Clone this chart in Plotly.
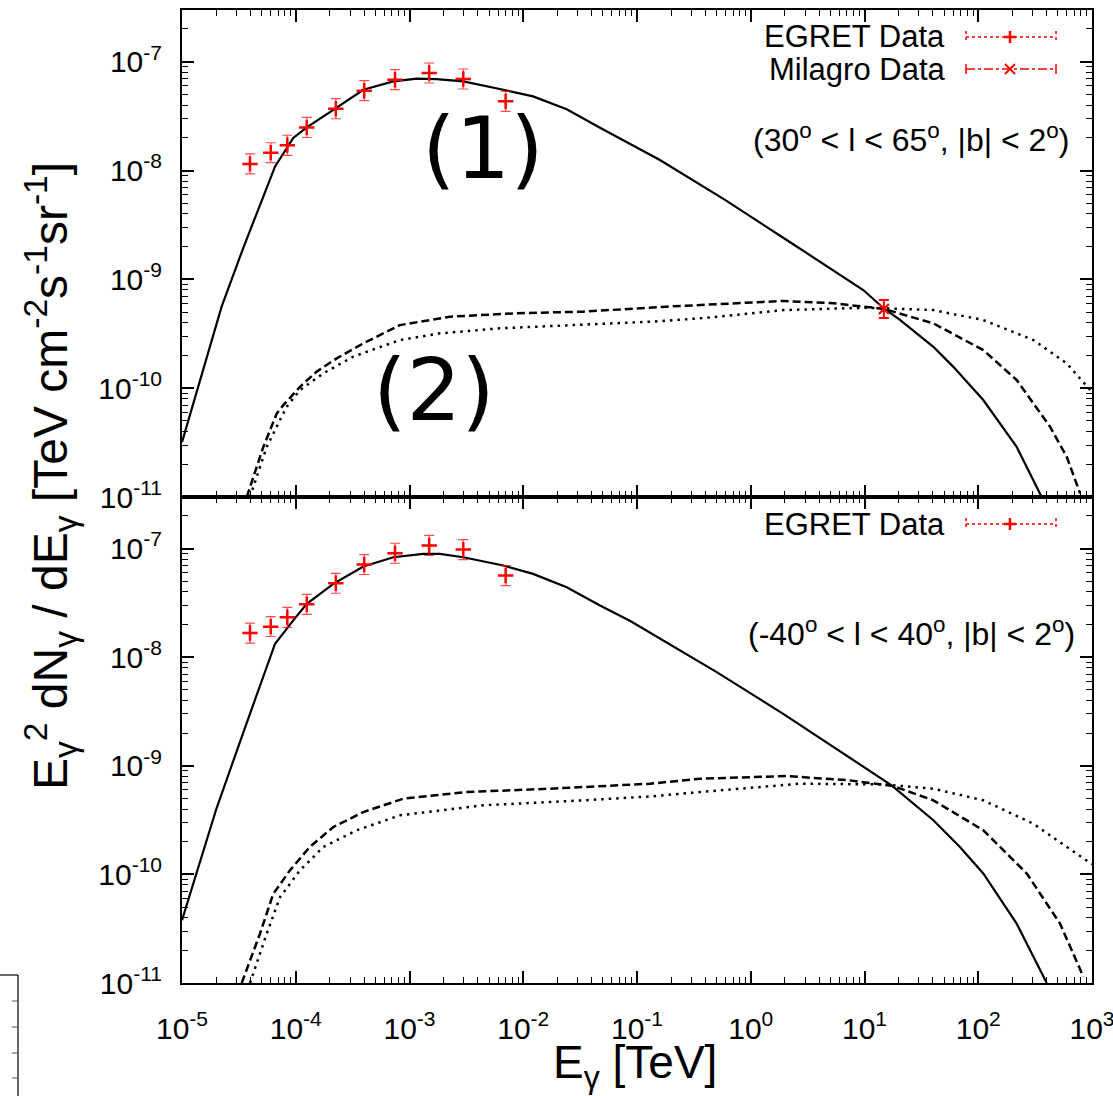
import plotly.graph_objects as go

# ---------------- data ----------------
egret_E = [3.96e-5, 6.03e-5, 8.43e-5, 1.25e-4, 2.25e-4, 4.0e-4, 7.46e-4, 1.49e-3, 2.97e-3, 7.0e-3]

top_egret_V = [1.15e-8, 1.46e-8, 1.71e-8, 2.49e-8, 3.70e-8, 5.41e-8, 6.83e-8, 7.87e-8, 6.93e-8, 4.32e-8]
top_egret_plus = [2.7e-9, 3.4e-9, 4.0e-9, 5.9e-9, 8.7e-9, 1.28e-8, 1.61e-8, 1.86e-8, 1.64e-8, 1.02e-8]
top_egret_minus = [2.2e-9, 2.8e-9, 3.3e-9, 4.8e-9, 7.1e-9, 1.03e-8, 1.30e-8, 1.50e-8, 1.32e-8, 8.3e-9]

bot_egret_V = [1.67e-8, 1.91e-8, 2.33e-8, 3.07e-8, 4.79e-8, 7.13e-8, 9.06e-8, 1.07e-7, 9.79e-8, 5.64e-8]
bot_egret_plus = [3.9e-9, 4.5e-9, 5.5e-9, 7.2e-9, 1.13e-8, 1.68e-8, 2.14e-8, 2.53e-8, 2.31e-8, 1.33e-8]
bot_egret_minus = [3.2e-9, 3.6e-9, 4.5e-9, 5.9e-9, 9.1e-9, 1.36e-8, 1.73e-8, 2.04e-8, 1.87e-8, 1.08e-8]

milagro_E = [14.8]
milagro_V = [5.35e-10]
milagro_plus = [1.12e-10]
milagro_minus = [0.93e-10]

top_solid_E = [1.0e-5, 1.44e-5, 2.23e-5, 3.46e-5, 6.58e-5, 9.51e-5, 1.25e-4, 2.14e-4, 3.93e-4, 7.21e-4,
               1.16e-3, 1.73e-3, 2.97e-3, 6.68e-3, 1.22e-2, 2.41e-2, 4.73e-2, 0.159, 0.594, 2.07,
               9.75, 14.8, 20.5, 40.3, 60.4, 110.7, 217.6, 361]
top_solid_V = [3.19e-11, 1.19e-10, 5.61e-10, 1.95e-9, 1.09e-8, 1.99e-8, 2.49e-8, 3.61e-8, 5.52e-8, 6.59e-8,
               6.98e-8, 6.93e-8, 6.59e-8, 5.52e-8, 4.80e-8, 3.65e-8, 2.47e-8, 1.25e-8, 5.37e-9, 2.30e-9,
               7.98e-10, 5.40e-10, 4.24e-10, 2.40e-10, 1.57e-10, 7.78e-11, 2.89e-11, 1.0e-11]

top_dash_E = [3.71e-5, 5.19e-5, 6.81e-5, 7.78e-5, 1.09e-4, 1.53e-4, 2.29e-4, 3.93e-4, 8.24e-4, 2.27e-3,
              8.75e-3, 3.37e-2, 0.182, 0.703, 1.93, 5.32, 14.8, 40.3, 110.7, 217.6,
              427.6, 599.8, 785]
top_dash_V = [1.0e-11, 2.89e-11, 5.86e-11, 6.98e-11, 1.03e-10, 1.42e-10, 1.88e-10, 2.58e-10, 3.80e-10, 4.54e-10,
              4.88e-10, 5.05e-10, 5.61e-10, 6.03e-10, 6.33e-10, 6.03e-10, 5.35e-10, 3.94e-10, 2.24e-10, 1.19e-10,
              4.42e-11, 2.34e-11, 1.08e-11]

top_dot_E = [3.96e-5, 5.56e-5, 8.32e-5, 1.09e-4, 1.75e-4, 3.21e-4, 8.24e-4, 1.85e-3, 6.25e-3, 0.130,
             0.358, 1.93, 10.4, 40.3, 110.7, 304.6, 600, 902, 1000]
top_dot_V = [1.0e-11, 2.89e-11, 6.75e-11, 9.62e-11, 1.37e-10, 1.95e-10, 2.77e-10, 3.19e-10, 3.55e-10, 4.08e-10,
             4.38e-10, 5.22e-10, 5.49e-10, 5.22e-10, 4.23e-10, 2.77e-10, 1.69e-10, 1.03e-10, 9.2e-11]

bot_solid_E = [1.0e-5, 2.0e-5, 3.55e-5, 5.01e-5, 6.58e-5, 9.51e-5, 1.25e-4, 2.14e-4, 3.93e-4,
               7.21e-4, 1.32e-3, 1.85e-3, 2.97e-3, 6.68e-3, 1.22e-2, 2.41e-2, 4.73e-2, 8.81e-2, 0.170,
               0.502, 1.93, 9.75, 17.3, 40.3, 69.0, 110.7, 217.6, 400]
bot_solid_V = [3.78e-11, 3.98e-10, 2.19e-9, 6.03e-9, 1.33e-8, 2.18e-8, 3.10e-8, 4.73e-8, 6.83e-8,
               8.32e-8, 8.93e-8, 8.93e-8, 8.32e-8, 6.98e-8, 5.85e-8, 4.41e-8, 2.99e-8, 2.14e-8, 1.43e-8,
               7.28e-9, 3.01e-9, 9.73e-10, 6.61e-10, 3.15e-10, 1.79e-10, 1.02e-10, 3.52e-11, 1.0e-11]

bot_dash_E = [3.35e-5, 4.85e-5, 6.35e-5, 8.90e-5, 1.33e-4, 2.14e-4, 3.93e-4, 8.83e-4, 3.18e-3, 1.72e-2,
              0.130, 0.358, 2.07, 7.45, 17.9, 40.3, 110.7, 267, 524, 840]
bot_dash_V = [1.0e-11, 2.85e-11, 6.65e-11, 1.09e-10, 1.79e-10, 2.73e-10, 3.75e-10, 4.98e-10, 5.73e-10, 6.15e-10,
              6.84e-10, 7.60e-10, 8.04e-10, 7.34e-10, 6.50e-10, 4.81e-10, 2.55e-10, 1.02e-10, 3.52e-11, 1.14e-11]

bot_dot_E = [3.96e-5, 5.56e-5, 7.28e-5, 1.09e-4, 1.75e-4, 3.44e-4, 8.24e-4, 4.46e-3, 3.37e-2, 0.130,
             0.358, 2.71, 14.6, 40.3, 110.7, 305, 600, 929, 1000]
bot_dot_V = [1.0e-11, 2.85e-11, 6.19e-11, 1.09e-10, 1.79e-10, 2.55e-10, 3.50e-10, 4.33e-10, 4.81e-10, 5.22e-10,
             5.73e-10, 6.84e-10, 6.74e-10, 6.15e-10, 4.81e-10, 2.93e-10, 1.79e-10, 1.30e-10, 1.24e-10]

x_tick_vals = [1e-5, 1e-4, 1e-3, 1e-2, 1e-1, 1e0, 1e1, 1e2, 1e3]
x_tick_text = ["10<sup>-5</sup>", "10<sup>-4</sup>", "10<sup>-3</sup>", "10<sup>-2</sup>", "10<sup>-1</sup>",
               "10<sup>0</sup>", "10<sup>1</sup>", "10<sup>2</sup>", "10<sup>3</sup>"]
y_tick_vals = [1e-11, 1e-10, 1e-9, 1e-8, 1e-7]
y_tick_text = ["10<sup>-11</sup>", "10<sup>-10</sup>", "10<sup>-9</sup>", "10<sup>-8</sup>", "10<sup>-7</sup>"]

# ---------------- layout geometry ----------------
W, H = 1113, 1096
ML, MT = 182, 10
PW = 1092 - 182
PH = 983 - 10
MR = W - ML - PW
MB = H - MT - PH
SPLIT = 486 / PH


def pxx(x):          # page pixel -> paper fraction
    return (x - ML) / PW


def pxy(y):
    return (H - MB - y) / PH


FONT = "Liberation Sans, Arial, Helvetica, sans-serif"
RED = "#ff0000"

fig = go.Figure()


def add_curves(E_s, V_s, E_d, V_d, E_o, V_o, xa, ya):
    fig.add_trace(go.Scatter(x=E_s, y=V_s, mode="lines", xaxis=xa, yaxis=ya,
                             line=dict(color="black", width=2.2), showlegend=False))
    fig.add_trace(go.Scatter(x=E_d, y=V_d, mode="lines", xaxis=xa, yaxis=ya,
                             line=dict(color="black", width=2.5, dash="8px,4px"), showlegend=False))
    fig.add_trace(go.Scatter(x=E_o, y=V_o, mode="lines", xaxis=xa, yaxis=ya,
                             line=dict(color="black", width=2.5, dash="2.5px,5px"), showlegend=False))


def add_egret(V, plus, minus, xa, ya):
    fig.add_trace(go.Scatter(
        x=egret_E, y=V, mode="markers", xaxis=xa, yaxis=ya, showlegend=False,
        marker=dict(symbol="cross-thin", size=11, line=dict(color=RED, width=2.5), color=RED),
        error_y=dict(type="data", array=plus, arrayminus=minus, color="rgba(255,0,0,0.7)",
                     thickness=1.2, width=5)))


add_curves(top_solid_E, top_solid_V, top_dash_E, top_dash_V, top_dot_E, top_dot_V, "x2", "y2")
add_egret(top_egret_V, top_egret_plus, top_egret_minus, "x2", "y2")
fig.add_trace(go.Scatter(
    x=milagro_E, y=milagro_V, mode="markers", xaxis="x2", yaxis="y2", showlegend=False,
    marker=dict(symbol="x-thin", size=10, line=dict(color=RED, width=2.2), color=RED),
    error_y=dict(type="data", array=milagro_plus, arrayminus=milagro_minus, color=RED,
                 thickness=2, width=5)))

add_curves(bot_solid_E, bot_solid_V, bot_dash_E, bot_dash_V, bot_dot_E, bot_dot_V, "x", "y")
add_egret(bot_egret_V, bot_egret_plus, bot_egret_minus, "x", "y")

x_minor = [m * 10.0 ** e for e in range(-5, 3) for m in range(2, 10)]
y_minor = [m * 10.0 ** e for e in range(-11, -6) for m in range(2, 10)]

axis_common = dict(type="log", showline=True, linecolor="black", linewidth=2, mirror="allticks",
                   ticks="inside", ticklen=12, tickwidth=1.5, tickcolor="black",
                   showgrid=False, zeroline=False, automargin=False,
                   tickfont=dict(family=FONT, size=30, color="black"))
minor_ticks = dict(ticks="inside", ticklen=6, tickwidth=1.2, tickcolor="black")

fig.update_layout(
    width=W, height=H,
    margin=dict(l=ML, r=MR, t=MT, b=MB),
    paper_bgcolor="white", plot_bgcolor="white",
    xaxis=dict(axis_common, range=[-5, 3], domain=[0, 1], anchor="y",
               tickvals=x_tick_vals, ticktext=x_tick_text, ticklabelstandoff=18,
               ticklabeloverflow="allow",
               minor=dict(minor_ticks, tickvals=x_minor)),
    xaxis2=dict(axis_common, range=[-5, 3], domain=[0, 1], anchor="y2", matches="x",
                tickvals=x_tick_vals, showticklabels=False,
                minor=dict(minor_ticks, tickvals=x_minor)),
    yaxis=dict(axis_common, range=[-11, -6.525], domain=[0, SPLIT], anchor="x",
               tickvals=y_tick_vals, ticktext=y_tick_text, ticklabelstandoff=12,
               minor=dict(minor_ticks, tickvals=y_minor)),
    yaxis2=dict(axis_common, range=[-11, -6.525], domain=[SPLIT, 1], anchor="x2",
                tickvals=y_tick_vals, ticktext=y_tick_text, ticklabelstandoff=12,
                minor=dict(minor_ticks, tickvals=y_minor)),
)

ann = []


def text(x, y, s, size, xanchor="center", family=FONT, angle=0):
    ann.append(dict(x=pxx(x), y=pxy(y), xref="paper", yref="paper", text=s, showarrow=False,
                    xanchor=xanchor, yanchor="middle", textangle=angle,
                    font=dict(family=family, size=size, color="black")))


text(947, 37, "EGRET Data", 31, "right")
text(947, 70, "Milagro Data", 31, "right")
text(947, 524, "EGRET Data", 31, "right")
text(1071, 138, "(30<sup>o</sup> &lt; l &lt; 65<sup>o</sup>, |b| &lt; 2<sup>o</sup>)", 32, "right")
text(1077, 632, "(-40<sup>o</sup> &lt; l &lt; 40<sup>o</sup>, |b| &lt; 2<sup>o</sup>)", 32, "right")
text(483, 148, "(1)", 86, "center", family="DejaVu Sans, sans-serif")
text(434, 390, "(2)", 86, "center", family="DejaVu Sans, sans-serif")
text(635, 1065, "E<sub>γ</sub> [TeV]", 46)
text(50, 476, "E<sub>γ</sub><sup>2</sup> dN<sub>γ</sub> / dE<sub>γ</sub> [TeV cm<sup>-2</sup>s<sup>-1</sup>sr<sup>-1</sup>]",
     48, angle=-90)
fig.update_layout(annotations=ann)

shapes = []


def seg(x0, y0, x1, y1, color=RED, width=1.5, dash="solid"):
    shapes.append(dict(type="line", xref="paper", yref="paper", x0=pxx(x0), y0=pxy(y0),
                       x1=pxx(x1), y1=pxy(y1), line=dict(color=color, width=width, dash=dash)))


# legend samples
for ly in (37, 524):
    seg(966, ly, 1056, ly, dash="dot", width=1.5)
    seg(966, ly - 6, 966, ly + 6, dash="dot", width=1.5)
    seg(1056, ly - 6, 1056, ly + 6, dash="dot", width=1.5)
    seg(1004, ly, 1016, ly, width=2.5)
    seg(1010, ly - 6, 1010, ly + 6, width=2.5)
seg(966, 69, 1056, 69, dash="dashdot", width=1.5)
seg(966, 64, 966, 74, width=1.5)
seg(1056, 64, 1056, 74, width=1.5)
seg(1005, 64, 1015, 74, width=2)
seg(1005, 74, 1015, 64, width=2)

# cropped fragment of a neighbouring frame at the bottom-left
seg(0, 975, 18, 975, color="black", width=1.2)
seg(18, 975, 18, 1096, color="black", width=1.2)
for ty in (1001, 1027, 1053, 1078):
    seg(12, ty, 18, ty, color="#555555", width=1)

fig.update_layout(shapes=shapes)

fig.write_html("out.html", config={"displayModeBar": False},
               post_script="document.body.style.margin='0px';document.body.style.overflow='hidden';")
